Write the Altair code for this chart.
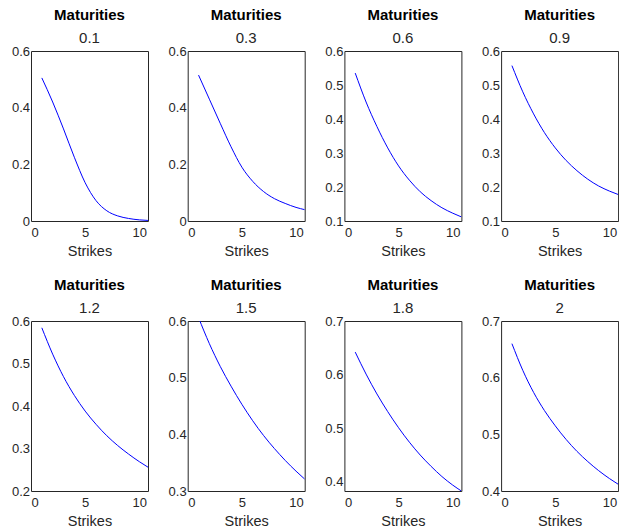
import altair as alt
import pandas as pd

strikes = [1, 2, 3, 4, 5, 6, 7, 8, 9, 10, 10.8]
maturities = ["0.1", "0.3", "0.6", "0.9", "1.2", "1.5", "1.8", "2"]

v_01 = [0.505, 0.42, 0.325, 0.225, 0.135, 0.072, 0.036, 0.018, 0.009, 0.004, 0.002]
v_03 = [0.515, 0.43, 0.345, 0.262, 0.19, 0.14, 0.104, 0.079, 0.062, 0.048, 0.04]
v_06 = [0.535, 0.45, 0.378, 0.315, 0.262, 0.22, 0.186, 0.16, 0.139, 0.123, 0.112]
v_09 = [0.557, 0.48, 0.415, 0.36, 0.315, 0.278, 0.248, 0.223, 0.203, 0.188, 0.178]
v_12 = [0.584, 0.522, 0.469, 0.425, 0.388, 0.357, 0.33, 0.307, 0.287, 0.269, 0.256]
v_15 = [0.606, 0.56, 0.52, 0.485, 0.453, 0.424, 0.398, 0.375, 0.354, 0.335, 0.321]
v_18 = [0.642, 0.601, 0.564, 0.531, 0.501, 0.474, 0.45, 0.429, 0.41, 0.394, 0.383]
v_20 = [0.66, 0.613, 0.574, 0.542, 0.515, 0.491, 0.47, 0.452, 0.436, 0.422, 0.412]

series = [v_01, v_03, v_06, v_09, v_12, v_15, v_18, v_20]

y_domains = [[0, 0.6], [0, 0.6], [0.1, 0.6], [0.1, 0.6],
             [0.2, 0.6], [0.3, 0.6], [0.383, 0.7], [0.4, 0.7]]
y_ticks = [[0, 0.2, 0.4, 0.6], [0, 0.2, 0.4, 0.6],
           [0.1, 0.2, 0.3, 0.4, 0.5, 0.6], [0.1, 0.2, 0.3, 0.4, 0.5, 0.6],
           [0.2, 0.3, 0.4, 0.5, 0.6], [0.3, 0.4, 0.5, 0.6],
           [0.4, 0.5, 0.6, 0.7], [0.4, 0.5, 0.6, 0.7]]
x_ticks = [0, 5, 10]

FONT = "Liberation Sans"
INK = "#262626"

panels = []
for i, m in enumerate(maturities):
    df = pd.DataFrame({"Strikes": strikes, "Value": series[i]})
    c = alt.Chart(
        df,
        title=alt.Title("Maturities", subtitle=m),
    ).mark_line(color="#0000ff", strokeWidth=1, clip=True, interpolate="monotone").encode(
        x=alt.X("Strikes:Q",
                scale=alt.Scale(domain=[0, 10.8], nice=False, zero=False),
                axis=alt.Axis(values=x_ticks, title="Strikes", format="d")),
        y=alt.Y("Value:Q",
                scale=alt.Scale(domain=y_domains[i], nice=False, zero=False),
                axis=alt.Axis(values=y_ticks[i], title=None, format=".1~f")),
    ).properties(width=117, height=170)
    panels.append(c)

chart = alt.concat(
    *panels, columns=4, spacing=alt.RowColnumber(row=100, column=39.7), bounds="flush"
).properties(
    padding={"left": 10, "top": 7, "right": 0, "bottom": 0}
).configure_view(
    stroke=INK, strokeWidth=1
).configure_axis(
    grid=False, domain=False, ticks=False,
    labelFont=FONT, labelFontSize=13, labelColor=INK, labelPadding=5.5,
    titleFont=FONT, titleFontSize=14.5, titleFontWeight="normal", titleColor=INK,
    titlePadding=5,
).configure_axisY(
    labelPadding=1.5
).configure_title(
    font=FONT, fontSize=15, fontWeight="bold", color="#000000",
    subtitleFont=FONT, subtitleFontSize=15, subtitleColor=INK,
    subtitlePadding=8, offset=-1, anchor="middle",
)

chart.save("out.html", embed_options={"renderer": "svg", "actions": False})
